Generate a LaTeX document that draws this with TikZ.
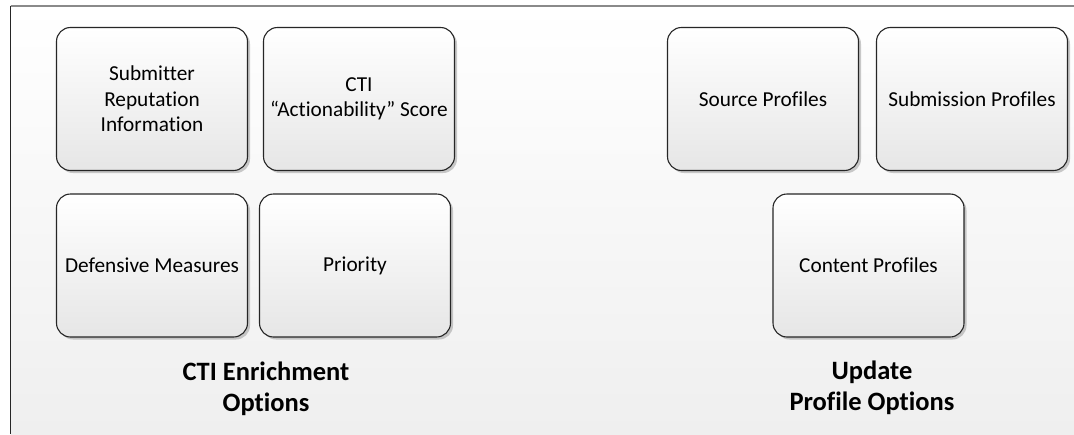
\documentclass[tikz,border=0pt]{standalone}
\usepackage{fontspec}
\setmainfont{Carlito}[Ligatures={NoCommon}]
\usetikzlibrary{shadows}
\definecolor{bgbot}{HTML}{EFEFEF}
\definecolor{boxbot}{HTML}{E6E6E6}
\definecolor{topline}{HTML}{8A8A8A}
\tikzset{
  optbox/.style={draw=black!85, line width=1.1pt, rounded corners=14pt,
    top color=white, bottom color=boxbot, minimum width=191pt, minimum height=143pt,
    align=center, inner sep=2pt, font=\fontsize{21.3}{25.5}\selectfont,
    drop shadow={shadow xshift=2.5pt, shadow yshift=-2.5pt, fill=black!35, opacity=0.6}},
  grouptitle/.style={align=center, font=\bfseries\fontsize{26.5}{31}\selectfont}
}
\begin{document}
\begin{tikzpicture}[x=1pt,y=-1pt]
\useasboundingbox (0,0) rectangle (1074,434);
\fill[white] (0,0) rectangle (1074,434);
\shade[top color=white, bottom color=bgbot] (10.5,6) rectangle (1074,434);
\draw[topline, line width=1.6pt] (10.5,6) -- (1074,6);
\draw[black!85, line width=1.2pt] (10.5,5.5) -- (10.5,434);
% left group
\node[optbox] (sub) at (152,99) {Submitter\\Reputation\\Information};
\node[optbox] (cti) at (359,99) {CTI\\“Actionability” Score};
\node[optbox] (def) at (152,265.5) {Defensive Measures};
\node[optbox] (pri) at (355,265.5) {Priority};
\node[grouptitle] (t1) at (266,389) {CTI Enrichment\\Options};
% right group
\node[optbox] (src) at (763,99) {Source Profiles};
\node[optbox] (subm) at (972,99) {Submission Profiles};
\node[optbox] (cont) at (868.5,265.5) {Content Profiles};
\node[grouptitle] (t2) at (872,388) {Update\\Profile Options};
\end{tikzpicture}
\end{document}
